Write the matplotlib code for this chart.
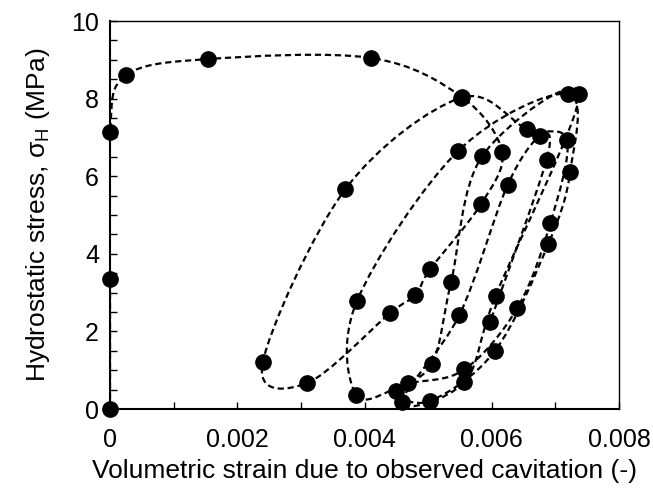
import matplotlib
matplotlib.use("Agg")
import matplotlib.pyplot as plt
import numpy as np
from matplotlib.path import Path
from matplotlib.patches import PathPatch
from matplotlib.ticker import MultipleLocator

plt.rcParams['font.family'] = ['Liberation Sans', 'DejaVu Sans']
plt.rcParams['mathtext.fontset'] = 'custom'
plt.rcParams['mathtext.rm'] = 'Liberation Sans'

strain = [0.0, 0.0, 0.0, 0.00025, 0.00154, 0.00410, 0.00553, 0.00616,
          0.00583, 0.00503, 0.00480, 0.00440, 0.00310, 0.00240, 0.00370,
          0.00551, 0.00655, 0.00718, 0.00692, 0.00640, 0.00557, 0.00469,
          0.00387, 0.00388, 0.00547, 0.00720, 0.00723, 0.00689, 0.00605,
          0.00503, 0.00449, 0.00506, 0.00536, 0.00585, 0.00737, 0.00606,
          0.00557, 0.00459, 0.00549, 0.00625, 0.00676, 0.00686, 0.00597]
stress = [0.0, 3.35, 7.14, 8.60, 9.02, 9.05, 8.04, 6.62,
          5.28, 3.60, 2.94, 2.47, 0.67, 1.20, 5.67,
          8.02, 7.22, 6.93, 4.79, 2.60, 1.02, 0.66,
          0.36, 2.78, 6.65, 8.12, 6.10, 4.26, 1.50,
          0.21, 0.47, 1.16, 3.27, 6.52, 8.12, 2.92,
          0.70, 0.17, 2.42, 5.78, 7.04, 6.42, 2.23]

x = np.asarray(strain)
y = np.asarray(stress)

fig = plt.figure(figsize=(6.53, 4.90), dpi=100)
ax = fig.add_axes([0.1685, 0.1653, 0.7795, 0.7917])

# Excel-style smoothed line (uniform Catmull-Rom as cubic Bezier segments)
pts = np.column_stack([x, y])
ext = np.vstack([pts[0], pts, pts[-1]])
verts = [tuple(pts[0])]
codes = [Path.MOVETO]
for i in range(len(pts) - 1):
    p0, p1, p2, p3 = ext[i], ext[i + 1], ext[i + 2], ext[i + 3]
    c1 = p1 + (p2 - p0) / 6.0
    c2 = p2 - (p3 - p1) / 6.0
    verts += [tuple(c1), tuple(c2), tuple(p2)]
    codes += [Path.CURVE4] * 3
ax.add_patch(PathPatch(Path(verts, codes), fill=False, edgecolor='black',
                       lw=1.6, linestyle=(0, (2.8, 1.7)), zorder=2))

ax.plot(x, y, 'o', color='black', ms=11, zorder=3, clip_on=False)

ax.set_xlim(0, 0.008)
ax.set_ylim(0, 10)
ax.xaxis.set_major_locator(MultipleLocator(0.002))
ax.xaxis.set_minor_locator(MultipleLocator(0.001))
ax.yaxis.set_major_locator(MultipleLocator(2))
ax.yaxis.set_minor_locator(MultipleLocator(0.5))
ax.set_xticks([0, 0.002, 0.004, 0.006, 0.008])
ax.set_xticklabels(['0', '0.002', '0.004', '0.006', '0.008'])
ax.tick_params(which='both', direction='in', length=5, width=1.0,
               colors='black', labelsize=18, pad=8)
ax.tick_params(axis='x', pad=14)

for s in ax.spines.values():
    s.set_color('black')
    s.set_linewidth(1.0)
ax.spines['left'].set_linewidth(1.5)
ax.spines['bottom'].set_linewidth(1.5)

ax.set_xlabel('Volumetric strain due to observed cavitation (-)', fontsize=19,
              labelpad=5)
ax.set_ylabel(r'Hydrostatic stress, σ$_\mathrm{H}$ (MPa)', fontsize=19,
              labelpad=14)

fig.savefig('out.png', dpi=100)
